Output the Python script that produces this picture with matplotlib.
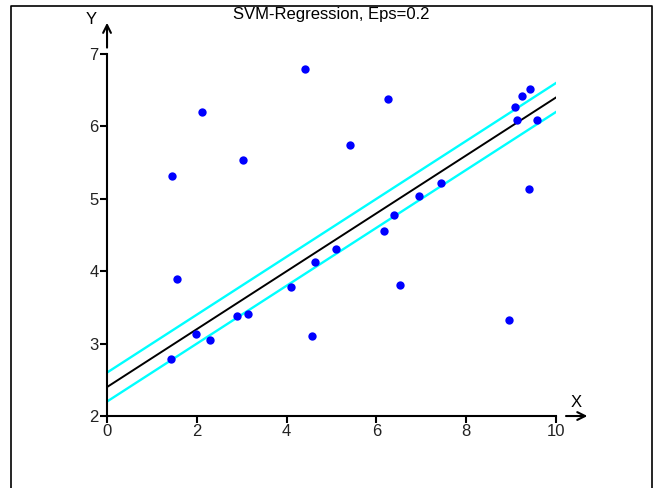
import matplotlib.pyplot as plt
from matplotlib.lines import Line2D

plt.rcParams['font.family'] = ['Liberation Sans', 'DejaVu Sans']

# data points
x = [1.45, 2.12, 1.56, 1.43, 1.98, 2.29, 3.03, 2.90, 3.14, 4.10, 4.41, 4.63, 4.57, 5.10,
     5.41, 6.26, 6.17, 6.39, 6.53, 6.95, 7.44, 8.95, 9.09, 9.13, 9.24, 9.42, 9.40, 9.58]
y = [5.31, 6.20, 3.89, 2.79, 3.13, 3.05, 5.54, 3.38, 3.41, 3.78, 6.79, 4.13, 3.10, 4.31,
     5.74, 6.38, 4.56, 4.78, 3.81, 5.04, 5.22, 3.33, 6.27, 6.09, 6.42, 6.52, 5.14, 6.09]

# fitted regression line and epsilon tube
line_x = [0, 10]
line_y = [2.4, 6.4]
eps = 0.2

fig = plt.figure(figsize=(6.53, 4.88), dpi=100)
ax = fig.add_axes([0.1639, 0.1475, 0.6876, 0.7418])

ax.plot(line_x, [v + eps for v in line_y], color='#00ffff', lw=1.7)
ax.plot(line_x, [v - eps for v in line_y], color='#00ffff', lw=1.7)
ax.plot(line_x, line_y, color='black', lw=1.4)
ax.plot(x, y, 'o', color='blue', markersize=6, markeredgewidth=0)

ax.set_xlim(0, 10)
ax.set_ylim(2, 7)
ax.set_xticks([0, 2, 4, 6, 8, 10])
ax.set_yticks([2, 3, 4, 5, 6, 7])
ax.tick_params(direction='out', length=5, width=1.5, labelsize=12, pad=1, labelcolor='#222222')
for s in ['top', 'right']:
    ax.spines[s].set_visible(False)
for s in ['left', 'bottom']:
    ax.spines[s].set_linewidth(1.5)

# axis arrows and names
ax.annotate('', xy=(0, 7.47), xytext=(0, 7.05), xycoords='data',
            arrowprops=dict(arrowstyle='->', lw=1.5, color='black', mutation_scale=14),
            annotation_clip=False)
ax.annotate('', xy=(10.76, 2), xytext=(10.16, 2), xycoords='data',
            arrowprops=dict(arrowstyle='->', lw=1.5, color='black', mutation_scale=14),
            annotation_clip=False)
ax.text(-0.36, 7.47, 'Y', fontsize=12, ha='center', va='center')
ax.text(10.45, 2.18, 'X', fontsize=12, ha='center', va='center')

fig.text(331 / 653, 1 - 15 / 488, 'SVM-Regression, Eps=0.2', fontsize=12, ha='center', va='center')

# outer frame (left, top, right)
fx0, fx1, fy1 = 11 / 653, 652 / 653, 1 - 6 / 488
fig.add_artist(Line2D([fx0, fx0, fx1, fx1], [0, fy1, fy1, 0], color='black', lw=1.2,
                      transform=fig.transFigure))

fig.savefig('out.png', dpi=100)
